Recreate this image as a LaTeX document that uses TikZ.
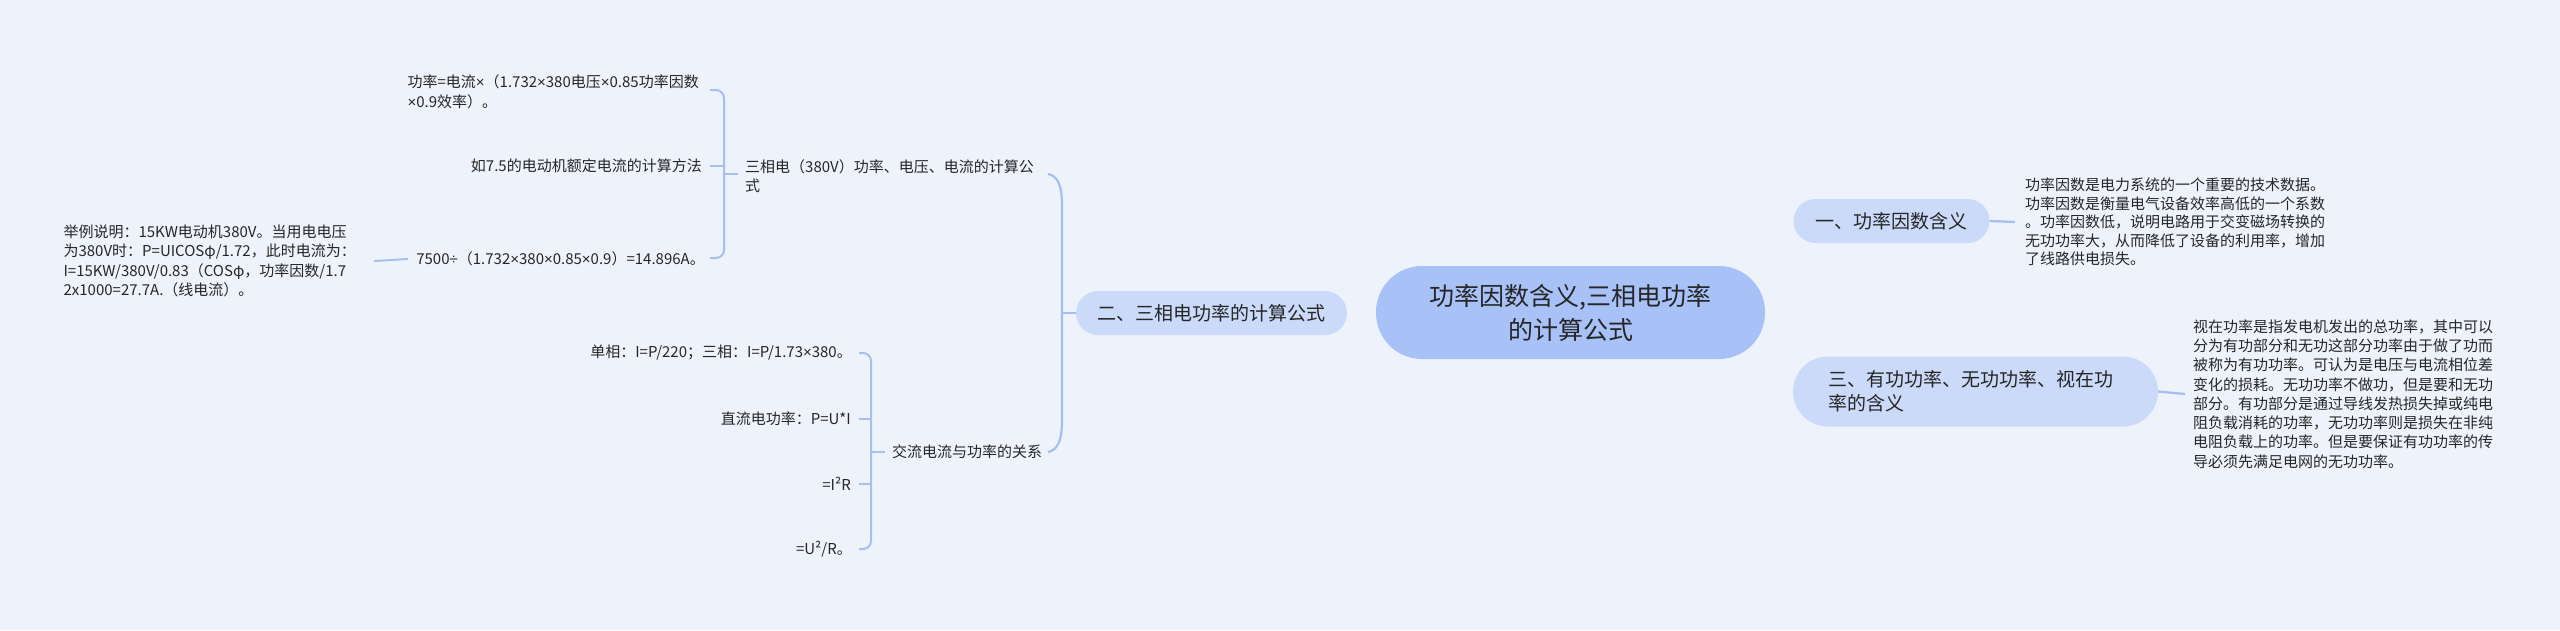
\documentclass[tikz,border=0pt]{standalone}
\usepackage{fontspec}
\setmainfont{Noto Sans CJK SC}
\newfontfamily\lsans{Liberation Sans}
\newcommand{\mytimes}{{\lsans ×}}
\newcommand{\mydiv}{{\lsans ÷}}
\definecolor{bgc}{HTML}{EEF2FB}
\definecolor{rootc}{HTML}{A8C1F7}
\definecolor{subc}{HTML}{CBDAF8}
\definecolor{linec}{HTML}{A6BEF0}
\definecolor{txt}{HTML}{262626}
\pgfdeclarelayer{back}
\pgfsetlayers{back,main}
\tikzset{
  rootbox/.style={fill=rootc, rounded corners=46pt, minimum width=389pt, minimum height=93pt,
    align=center, font=\fontsize{25}{34}\selectfont, text=txt, inner sep=0pt},
  subbox/.style={fill=subc, rounded corners=22pt, minimum height=44pt, inner sep=0pt,
    font=\fontsize{19}{24}\selectfont, text=txt},
  note/.style={inner sep=0pt, align=left, font=\fontsize{15}{19.3}\selectfont, text=txt},
  link/.style={draw=linec, line width=2.3pt},
  brk/.style={draw=linec, line width=2pt, rounded corners=8pt},
}
\begin{document}
\begin{tikzpicture}[x=1pt,y=-1pt]
\fill[bgc] (0,0) rectangle (2560,630);
\useasboundingbox (0,0) rectangle (2560,630);

% main nodes
\node[rootbox] (root) at (1570.5,312.5) {功率因数含义,三相电功率\\的计算公式};
\node[subbox, minimum width=196pt] (n1) at (1891.5,221) {一、功率因数含义};
\node[subbox, minimum width=271pt] (n2) at (1211.5,313) {二、三相电功率的计算公式};
\node[subbox, rounded corners=35pt, minimum width=365pt, minimum height=70pt,
      text width=295pt, align=left, inner xsep=35pt] (n3) at (1975.5,391.5)
      {三、有功功率、无功功率、视在功\\率的含义};

% notes on the right
\node[note, font=\fontsize{15}{18.6}\selectfont, anchor=west] (note1) at (2025,222)
  {功率因数是电力系统的一个重要的技术数据。\\功率因数是衡量电气设备效率高低的一个系数\\。功率因数低，说明电路用于交变磁场转换的\\无功功率大，从而降低了设备的利用率，增加\\了线路供电损失。};
\node[note, anchor=west] (note3) at (2193,394)
  {视在功率是指发电机发出的总功率，其中可以\\分为有功部分和无功这部分功率由于做了功而\\被称为有功功率。可认为是电压与电流相位差\\变化的损耗。无功功率不做功，但是要和无功\\部分。有功部分是通过导线发热损失掉或纯电\\阻负载消耗的功率，无功功率则是损失在非纯\\电阻负载上的功率。但是要保证有功功率的传\\导必须先满足电网的无功功率。};

% left branch: three-phase
\node[note, anchor=west] (t3) at (745,176) {三相电（380V）功率、电压、电流的计算公\\式};
\node[note, anchor=east, font=\fontsize{15}{20}\selectfont] (c1) at (699,92) {功率=电流\mytimes（1.732\mytimes380电压\mytimes0.85功率因数\\\mytimes0.9效率）。};
\node[note, anchor=east] (c2) at (702,166) {如7.5的电动机额定电流的计算方法};
\node[note, anchor=east] (c3) at (705,259) {7500\mydiv（1.732\mytimes380\mytimes0.85\mytimes0.9）=14.896A。};
\node[note, anchor=east] (c4) at (356,261) {举例说明：15KW电动机380V。当用电电压\\为380V时：P=UICOSφ/1.72，此时电流为：\\I=15KW/380V/0.83（COSφ，功率因数/1.7\\2x1000=27.7A.（线电流）。};

% left branch: AC
\node[note, anchor=west] (ac) at (892,452) {交流电流与功率的关系};
\node[note, anchor=east] (k1) at (852,353) {单相：I=P/220；三相：I=P/1.73\mytimes380。};
\node[note, anchor=east] (k2) at (851,419) {直流电功率：P=U*I};
\node[note, anchor=east] (k3) at (851,484) {=I²R};
\node[note, anchor=east] (k4) at (852,549) {=U²/R。};

% bracket coordinates
\coordinate (bt) at (1048,174);
\coordinate (bm) at (1062,313);
\coordinate (bb) at (1048,452);
\coordinate (a1) at (710,90);
\coordinate (a2) at (710,166);
\coordinate (a3) at (710,258);
\coordinate (ap) at (738,174);
\coordinate (aj) at (724,174);
\coordinate (d1) at (859,353);
\coordinate (d2) at (859,419);
\coordinate (d3) at (859,484);
\coordinate (d4) at (859,549);
\coordinate (dp) at (885,452);
\coordinate (dj) at (871,452);

\begin{pgfonlayer}{back}
\draw[link] (root.center) .. controls (1600,225) and (1650,221) .. (n1.west);
\draw[link] (root.center) .. controls (1600,385) and (1660,391.5) .. (n3.west);
\draw[link] (root.center) -- (n2.east);
\end{pgfonlayer}
\draw[link] (n1.east) -- ([xshift=-10pt]note1.west);
\draw[link] (n3.east) -- ([xshift=-8pt]note3.west);
\draw[link] (n2.west) -- (bm);
\draw[brk, line width=2.2pt, rounded corners=0pt] (bt) .. controls (1058,176) and (1062,186) .. (1062,205)
   -- (1062,420) .. controls (1062,440) and (1058,450) .. (bb);

% bracket three-phase
\draw[brk] (a1) -- (724,90) -- (724,258) -- (a3);
\draw[brk] (a2) -- (724,166);
\draw[brk] (aj) -- (ap);
\draw[brk] ([xshift=18pt]c4.east) -- ([xshift=-8pt]c3.west);

% bracket AC
\draw[brk] (d1) -- (871,353) -- (871,549) -- (d4);
\draw[brk] (d2) -- (871,419);
\draw[brk] (d3) -- (871,484);
\draw[brk] (dj) -- (dp);
\end{tikzpicture}
\end{document}
